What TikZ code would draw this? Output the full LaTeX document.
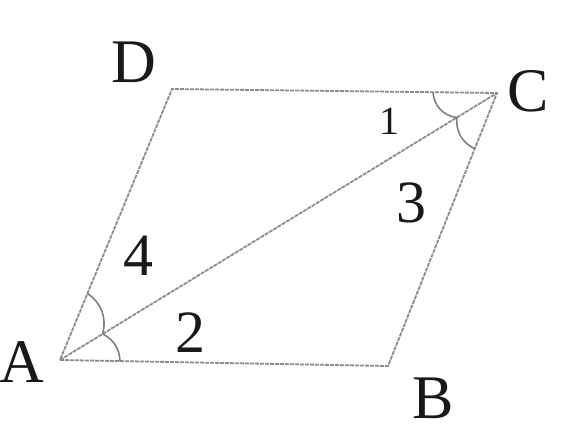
\documentclass[tikz,border=0pt]{standalone}
\usepackage{fontspec}
\setmainfont{Liberation Serif}
\usetikzlibrary{calc}
\begin{document}
\begin{tikzpicture}[x=1pt,y=-1pt,
  edge/.style={draw=black!45,line width=1.8pt,dash pattern=on 4pt off 1pt},
  anglearc/.style={draw=black!50,line width=1.6pt},
  vlabel/.style={font=\fontsize{62}{62}\selectfont,text=black!90,inner sep=0pt},
  nlabel/.style={font=\fontsize{60}{60}\selectfont,text=black!90,inner sep=0pt},
  slabel/.style={font=\fontsize{40}{40}\selectfont,text=black!90,inner sep=0pt}]
\useasboundingbox (0,0) rectangle (576,433);
\coordinate (A) at (60,360);
\coordinate (B) at (388,366);
\coordinate (C) at (497,93);
\coordinate (D) at (172,89);
\draw[edge] (A) -- (B) -- (C) -- (D) -- cycle;
\draw[edge] (A) -- (C);
% angle arcs at A
\coordinate (a1) at ($(A)!60pt!(B)$);
\coordinate (a2) at ($(A)!50pt!(C)$);
\coordinate (a3) at ($(A)!72pt!(D)$);
\draw[anglearc] (a1) to[bend right=30] (a2);
\draw[anglearc] (a2) to[bend right=35] (a3);
% angle arcs at C
\coordinate (c1) at ($(C)!64pt!(D)$);
\coordinate (c2) at ($(C)!47pt!(A)$);
\coordinate (c3) at ($(C)!60pt!(B)$);
\draw[anglearc] (c1) to[bend right=40] (c2);
\draw[anglearc] (c2) to[bend right=35] (c3);
% labels
\node[vlabel] (lA) at (22,362) {A};
\node[vlabel] (lB) at (433,398) {B};
\node[vlabel] (lC) at (528,91) {C};
\node[vlabel] (lD) at (134,62) {D};
\node[slabel] (l1) at (389,121) {1};
\node[nlabel] (l2) at (190,333) {2};
\node[nlabel] (l3) at (411,203) {3};
\node[nlabel] (l4) at (138,256) {4};
\end{tikzpicture}
\end{document}
